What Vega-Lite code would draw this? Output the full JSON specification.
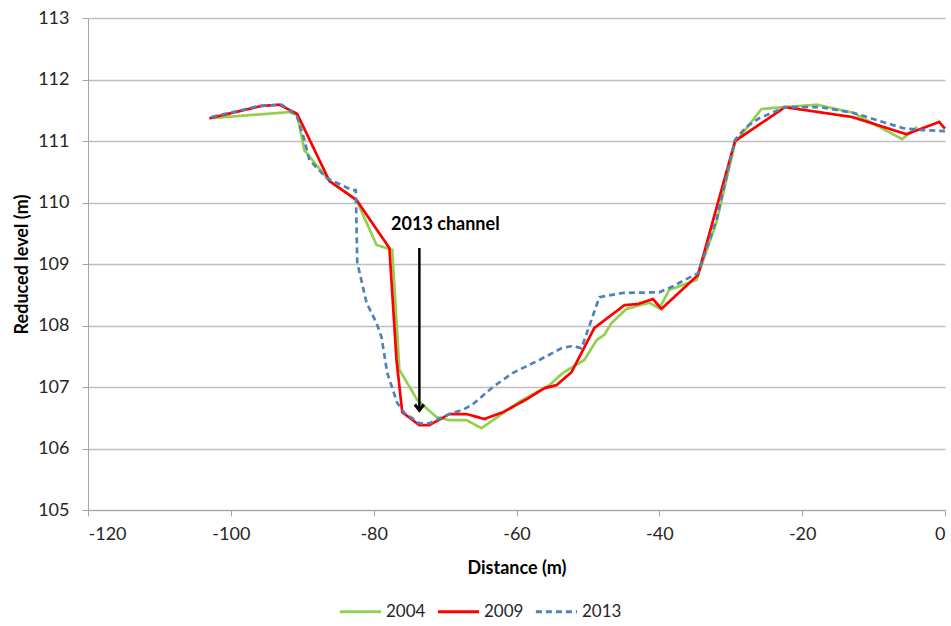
{
  "$schema": "https://vega.github.io/schema/vega-lite/v6.json",
  "width": 857,
  "height": 492,
  "autosize": {"type": "none"},
  "padding": {"left": 88, "top": 18, "right": 6, "bottom": 116},
  "background": "white",
  "config": {
    "font": "Lato",
    "view": {"stroke": null},
    "axis": {
      "labelFont": "Lato",
      "titleFont": "Lato",
      "labelFontSize": 18,
      "titleFontSize": 18,
      "labelColor": "#262626",
      "titleColor": "#000000",
      "domainColor": "#A6A6A6",
      "tickColor": "#A6A6A6",
      "gridColor": "#BFBFBF",
      "gridWidth": 1.3
    },
    "legend": {"labelFont": "Lato", "labelFontSize": 17, "labelColor": "#262626"}
  },
  "datasets": {
    "profiles": [
      {"d": -103.0, "z": 111.37, "year": "2004"},
      {"d": -91.8, "z": 111.47, "year": "2004"},
      {"d": -90.7, "z": 111.42, "year": "2004"},
      {"d": -89.7, "z": 110.85, "year": "2004"},
      {"d": -86.2, "z": 110.35, "year": "2004"},
      {"d": -82.4, "z": 110.04, "year": "2004"},
      {"d": -79.6, "z": 109.31, "year": "2004"},
      {"d": -77.4, "z": 109.23, "year": "2004"},
      {"d": -76.4, "z": 107.28, "year": "2004"},
      {"d": -73.9, "z": 106.79, "year": "2004"},
      {"d": -71.2, "z": 106.51, "year": "2004"},
      {"d": -69.4, "z": 106.46, "year": "2004"},
      {"d": -67.0, "z": 106.46, "year": "2004"},
      {"d": -64.9, "z": 106.33, "year": "2004"},
      {"d": -62.8, "z": 106.5, "year": "2004"},
      {"d": -59.6, "z": 106.76, "year": "2004"},
      {"d": -55.4, "z": 107.03, "year": "2004"},
      {"d": -53.5, "z": 107.23, "year": "2004"},
      {"d": -50.5, "z": 107.44, "year": "2004"},
      {"d": -48.8, "z": 107.76, "year": "2004"},
      {"d": -47.7, "z": 107.85, "year": "2004"},
      {"d": -46.7, "z": 108.04, "year": "2004"},
      {"d": -44.6, "z": 108.27, "year": "2004"},
      {"d": -41.4, "z": 108.37, "year": "2004"},
      {"d": -40.0, "z": 108.28, "year": "2004"},
      {"d": -38.6, "z": 108.58, "year": "2004"},
      {"d": -34.8, "z": 108.74, "year": "2004"},
      {"d": -32.0, "z": 109.68, "year": "2004"},
      {"d": -29.4, "z": 110.97, "year": "2004"},
      {"d": -25.7, "z": 111.52, "year": "2004"},
      {"d": -22.7, "z": 111.55, "year": "2004"},
      {"d": -17.9, "z": 111.59, "year": "2004"},
      {"d": -12.9, "z": 111.46, "year": "2004"},
      {"d": -6.0, "z": 111.03, "year": "2004"},
      {"d": -3.9, "z": 111.23, "year": "2004"},

      {"d": -103.0, "z": 111.37, "year": "2009"},
      {"d": -95.7, "z": 111.57, "year": "2009"},
      {"d": -93.2, "z": 111.59, "year": "2009"},
      {"d": -90.7, "z": 111.44, "year": "2009"},
      {"d": -86.2, "z": 110.35, "year": "2009"},
      {"d": -82.4, "z": 110.04, "year": "2009"},
      {"d": -77.8, "z": 109.26, "year": "2009"},
      {"d": -76.8, "z": 107.44, "year": "2009"},
      {"d": -76.0, "z": 106.59, "year": "2009"},
      {"d": -73.6, "z": 106.38, "year": "2009"},
      {"d": -72.2, "z": 106.38, "year": "2009"},
      {"d": -69.4, "z": 106.56, "year": "2009"},
      {"d": -67.0, "z": 106.56, "year": "2009"},
      {"d": -64.5, "z": 106.48, "year": "2009"},
      {"d": -61.9, "z": 106.59, "year": "2009"},
      {"d": -58.6, "z": 106.8, "year": "2009"},
      {"d": -56.1, "z": 106.98, "year": "2009"},
      {"d": -54.4, "z": 107.03, "year": "2009"},
      {"d": -52.3, "z": 107.24, "year": "2009"},
      {"d": -49.1, "z": 107.96, "year": "2009"},
      {"d": -44.9, "z": 108.33, "year": "2009"},
      {"d": -43.0, "z": 108.35, "year": "2009"},
      {"d": -40.9, "z": 108.43, "year": "2009"},
      {"d": -39.7, "z": 108.27, "year": "2009"},
      {"d": -34.6, "z": 108.82, "year": "2009"},
      {"d": -29.4, "z": 111.0, "year": "2009"},
      {"d": -22.4, "z": 111.55, "year": "2009"},
      {"d": -13.0, "z": 111.39, "year": "2009"},
      {"d": -5.4, "z": 111.11, "year": "2009"},
      {"d": -0.8, "z": 111.31, "year": "2009"},
      {"d": 0.0, "z": 111.2, "year": "2009"},

      {"d": -102.7, "z": 111.39, "year": "2013"},
      {"d": -96.0, "z": 111.57, "year": "2013"},
      {"d": -92.9, "z": 111.59, "year": "2013"},
      {"d": -91.8, "z": 111.5, "year": "2013"},
      {"d": -90.7, "z": 111.39, "year": "2013"},
      {"d": -89.7, "z": 111.02, "year": "2013"},
      {"d": -89.0, "z": 110.69, "year": "2013"},
      {"d": -86.6, "z": 110.4, "year": "2013"},
      {"d": -83.0, "z": 110.2, "year": "2013"},
      {"d": -82.5, "z": 110.2, "year": "2013"},
      {"d": -82.3, "z": 109.03, "year": "2013"},
      {"d": -81.0, "z": 108.37, "year": "2013"},
      {"d": -79.6, "z": 108.04, "year": "2013"},
      {"d": -78.9, "z": 107.81, "year": "2013"},
      {"d": -78.1, "z": 107.23, "year": "2013"},
      {"d": -76.7, "z": 106.74, "year": "2013"},
      {"d": -75.7, "z": 106.58, "year": "2013"},
      {"d": -73.6, "z": 106.41, "year": "2013"},
      {"d": -72.2, "z": 106.41, "year": "2013"},
      {"d": -69.4, "z": 106.56, "year": "2013"},
      {"d": -67.5, "z": 106.63, "year": "2013"},
      {"d": -66.1, "z": 106.72, "year": "2013"},
      {"d": -63.3, "z": 107.0, "year": "2013"},
      {"d": -60.5, "z": 107.23, "year": "2013"},
      {"d": -56.8, "z": 107.44, "year": "2013"},
      {"d": -53.7, "z": 107.63, "year": "2013"},
      {"d": -52.1, "z": 107.67, "year": "2013"},
      {"d": -50.9, "z": 107.63, "year": "2013"},
      {"d": -48.4, "z": 108.46, "year": "2013"},
      {"d": -45.1, "z": 108.53, "year": "2013"},
      {"d": -40.0, "z": 108.54, "year": "2013"},
      {"d": -38.6, "z": 108.61, "year": "2013"},
      {"d": -34.6, "z": 108.85, "year": "2013"},
      {"d": -32.0, "z": 109.72, "year": "2013"},
      {"d": -29.4, "z": 111.02, "year": "2013"},
      {"d": -27.8, "z": 111.23, "year": "2013"},
      {"d": -26.0, "z": 111.37, "year": "2013"},
      {"d": -22.4, "z": 111.55, "year": "2013"},
      {"d": -17.5, "z": 111.55, "year": "2013"},
      {"d": -12.9, "z": 111.46, "year": "2013"},
      {"d": -5.9, "z": 111.21, "year": "2013"},
      {"d": -3.5, "z": 111.18, "year": "2013"},
      {"d": 0.0, "z": 111.16, "year": "2013"}
    ],
    "arrow": [
      {"d": -73.6, "z": 109.26, "label": "2013 channel"},
      {"d": -73.6, "z": 106.62, "label": "2013 channel"}
    ]
  },
  "layer": [
    {
      "data": {"name": "profiles"},
      "mark": {"type": "line", "strokeWidth": 2.7, "clip": false},
      "encoding": {
        "x": {
          "field": "d",
          "type": "quantitative",
          "scale": {"domain": [-120, 0], "nice": false},
          "axis": {
            "title": "Distance (m)",
            "titleFontWeight": "bold",
            "titlePadding": 16,
            "values": [-120, -100, -80, -60, -40, -20, 0],
            "labelExpr": "datum.value + ''",
            "grid": false,
            "tickSize": 6,
            "labelPadding": 9
          }
        },
        "y": {
          "field": "z",
          "type": "quantitative",
          "scale": {"domain": [105, 113], "nice": false, "zero": false},
          "axis": {
            "title": "Reduced level (m)",
            "titleFontWeight": "bold",
            "titlePadding": 6,
            "values": [105, 106, 107, 108, 109, 110, 111, 112, 113],
            "format": "d",
            "tickSize": 6,
            "labelPadding": 13
          }
        },
        "color": {
          "field": "year",
          "type": "nominal",
          "scale": {"domain": ["2004", "2009", "2013"], "range": ["#92D050", "#FF0000", "#4F81BD"]},
          "legend": {
            "title": null,
            "orient": "none",
            "direction": "horizontal",
            "legendX": 250,
            "legendY": 571,
            "symbolType": "stroke",
            "symbolSize": 1700,
            "symbolStrokeWidth": 3,
            "columnPadding": 5,
            "labelOffset": 3
          }
        },
        "strokeDash": {
          "field": "year",
          "type": "nominal",
          "scale": {"domain": ["2004", "2009", "2013"], "range": [[1, 0], [1, 0], [6, 4]]},
          "legend": null
        }
      }
    },
    {
      "data": {"name": "arrow"},
      "mark": {"type": "line", "color": "#000000", "strokeWidth": 2.5},
      "encoding": {
        "x": {"field": "d", "type": "quantitative"},
        "y": {"field": "z", "type": "quantitative"}
      }
    },
    {
      "data": {"name": "arrow"},
      "transform": [{"filter": "datum.z < 107"}],
      "mark": {
        "type": "point",
        "shape": "M -1 -1.3 L 0 0 L 1 -1.3",
        "filled": false,
        "stroke": "#000000",
        "strokeWidth": 3,
        "size": 81,
        "opacity": 1
      },
      "encoding": {
        "x": {"field": "d", "type": "quantitative"},
        "y": {"field": "z", "type": "quantitative"}
      }
    },
    {
      "data": {"name": "arrow"},
      "transform": [{"filter": "datum.z > 109"}],
      "mark": {
        "type": "text",
        "font": "Lato",
        "fontSize": 18,
        "fontWeight": "bold",
        "color": "#000000",
        "align": "center",
        "baseline": "middle",
        "dx": 26,
        "dy": -23
      },
      "encoding": {
        "x": {"field": "d", "type": "quantitative"},
        "y": {"field": "z", "type": "quantitative"},
        "text": {"field": "label"}
      }
    }
  ]
}
